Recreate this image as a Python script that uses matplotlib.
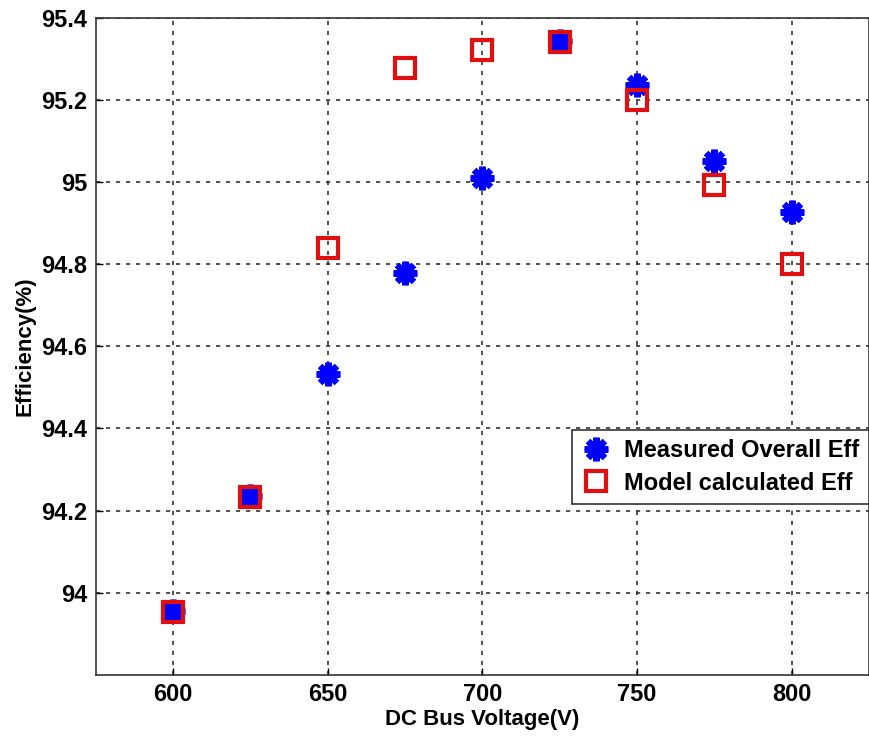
import matplotlib
matplotlib.use("Agg")
import matplotlib.pyplot as plt

# DC bus voltage sweep
voltage = [600, 625, 650, 675, 700, 725, 750, 775, 800]
measured_eff = [93.956, 94.235, 94.533, 94.778, 95.010, 95.342, 95.236, 95.052, 94.926]
model_eff = [93.953, 94.233, 94.840, 95.278, 95.320, 95.340, 95.200, 94.993, 94.800]

xticks = [600, 650, 700, 750, 800]
yticks = [94, 94.2, 94.4, 94.6, 94.8, 95, 95.2, 95.4]
ytick_labels = ["94", "94.2", "94.4", "94.6", "94.8", "95", "95.2", "95.4"]

tick_font = {"family": "Liberation Sans", "weight": "bold", "size": 17}
label_font = {"family": "Liberation Sans", "weight": "bold", "size": 16}

fig = plt.figure(figsize=(8.7, 7.47), dpi=100)
ax = fig.add_axes([0.110, 0.0964, 0.889, 0.880])

ax.plot(voltage, measured_eff, linestyle="none", marker=(8, 2, 0),
        markersize=17, markeredgewidth=4.5, color="#0000ff",
        label="Measured Overall Eff", zorder=3)
ax.plot(voltage, model_eff, linestyle="none", marker="s",
        markersize=14, markeredgewidth=3, markeredgecolor="#e01010",
        markerfacecolor="none", label="Model calculated Eff", zorder=4)

ax.set_xlim(575, 825)
ax.set_ylim(93.8, 95.4)
ax.set_xticks(xticks)
ax.set_yticks(yticks)
ax.set_xticklabels([str(v) for v in xticks], fontdict=tick_font)
ax.set_yticklabels(ytick_labels, fontdict=tick_font)
ax.tick_params(direction="in", length=5, width=1, pad=6)

ax.grid(True, color="#333333", linestyle=(0, (2.5, 3.5)), linewidth=1.2)
ax.set_axisbelow(True)
for sp in ax.spines.values():
    sp.set_linewidth(1.2)
    sp.set_color("#333333")

ax.set_xlabel("DC Bus Voltage(V)", fontdict=label_font, labelpad=2)
ax.set_ylabel("Efficiency(%)", fontdict=label_font, labelpad=4)

leg = ax.legend(loc="upper right", bbox_to_anchor=(1.0, 0.373),
                prop={"family": "Liberation Sans", "weight": "bold", "size": 17},
                fancybox=False, framealpha=1, edgecolor="#333333",
                handletextpad=0.6, borderpad=0.4, labelspacing=0.4,
                handlelength=1.2, borderaxespad=0)
leg.get_frame().set_linewidth(1.2)

fig.savefig("out.png", dpi=100)
